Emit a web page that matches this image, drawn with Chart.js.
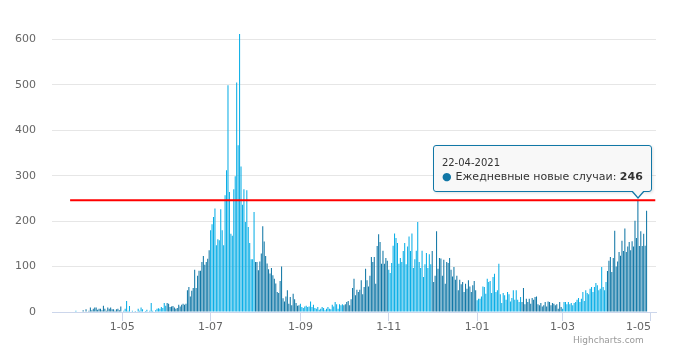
<!DOCTYPE html>
<html>
<head>
<meta charset="utf-8">
<script src="https://cdn.jsdelivr.net/npm/chart.js@4/dist/chart.umd.min.js"></script>
<style>
  html, body { margin: 0; padding: 0; background: #fff; }
  #wrap { position: relative; width: 680px; height: 361px; overflow: hidden; }
  #tip {
    position: absolute; box-sizing: border-box; white-space: nowrap;
    background: rgba(247,247,247,0.9); border: 1px solid #1278a8; border-radius: 3px;
    padding: 8px 8px 8px 8px; font-family: "DejaVu Sans", sans-serif; color: #333;
    box-shadow: 1px 1px 3px rgba(0,0,0,0.12); pointer-events: none; display: none;
  }
  #tip .tt { font-size: 10px; line-height: 17px; }
  #tip .tb { font-size: 11px; line-height: 12px; }
  #tip .dot { font-size: 11px; margin-right: 4px; }
  #tip .ar1, #tip .ar2 { position: absolute; width: 0; height: 0; }
  #credits { position: absolute; left: 573px; top: 335px; font: 9px "DejaVu Sans", sans-serif; color: #999; }
</style>
</head>
<body>
<div id="wrap">
  <canvas id="c" width="680" height="361"></canvas>
  <div id="tip"></div>
  <div id="credits">Highcharts.com</div>
</div>
<script>
// ---------------- data ----------------
const seriesName = 'Ежедневные новые случаи';
const firstDate = '2020-03-14';
const mar2020 = [0,0,0,0,0,0,0,0,0,0,0,0,0,0,0,0,3,0];
const apr2020 = [0,0,0,4,0,6,0,3,10,4,7,10,10,5,7,7,4,14,7,3,10,7,10,6,6,3,6,7,4,12];
const may2020 = [0,3,7,24,3,13,0,3,0,2,0,7,3,10,6,0,2,5,0,3,20,3,0,4,7,8,7,11,9,20,14];
const jun2020 = [20,18,11,12,13,10,7,9,16,12,16,18,16,18,48,55,34,47,53,93,53,80,91,91,110,123,104,110,117,136];
const jul2020 = [180,193,209,228,147,160,158,226,180,147,257,312,499,264,172,168,270,299,505,367,612,320,236,270,198,268,187,152,116,116,220];
const aug2020 = [110,110,92,111,129,189,155,123,107,94,85,97,81,73,63,44,42,68,100,30,23,34,48,18,33,15,40,28,20,14,15];
const sep2020 = [18,11,9,12,14,11,12,23,11,16,9,7,11,5,7,11,9,4,7,11,7,6,16,12,22,17,7,17,15,17];
const oct2020 = [15,17,22,24,15,28,53,73,37,49,44,49,70,39,55,95,70,56,80,121,110,121,62,145,171,154,106,135,106,119,113];
const nov2020 = [93,86,108,146,173,163,152,106,119,110,134,152,105,144,166,134,173,97,116,135,198,110,97,135,77,105,130,97,127,105];
const dec2020 = [134,66,80,178,95,119,118,80,115,62,110,108,119,93,78,99,71,80,48,71,61,66,44,62,51,70,56,44,59,68,48];
const jan2021 = [26,29,29,34,56,55,40,73,66,68,42,77,84,44,48,106,39,20,42,37,27,44,39,23,31,48,27,48,27,22,33];
const feb2021 = [22,53,17,29,22,29,18,31,27,33,34,17,15,20,12,15,22,12,23,22,15,20,18,15,17,7,22,11];
const mar2021 = [7,22,22,17,22,17,20,15,20,22,27,31,22,29,44,24,48,42,39,51,55,44,55,64,59,48,51,99,55,48,66];
const apr2021 = [90,113,121,88,119,179,100,111,132,124,157,134,184,132,144,154,136,156,144,201,163,246,145,178,145,172,146,223];

const thresholdValue = 246;
const thresholdFrom = '2020-03-26';
const thresholdTo = '2021-05-04';

const axisFrom = '2020-03-14';
const axisTo = '2021-05-04';
const tickDates = ['2020-05-01','2020-07-01','2020-09-01','2020-11-01','2021-01-01','2021-03-01','2021-05-01'];
const tickLabels = ['1-05','1-07','1-09','1-11','1-01','1-03','1-05'];
const yTicks = [0,100,200,300,400,500,600];
const yMax = 637;
const tooltipDate = '2021-04-22';

const colorOddMonth = '#0aaee6';
const colorEvenMonth = '#1177a6';

// ---------------- helpers ----------------
const DAY = 86400000;
const ref = Date.UTC(2020, 4, 1);
function dayNum(s) { const p = s.split('-').map(Number); return Math.round((Date.UTC(p[0], p[1]-1, p[2]) - ref) / DAY); }
function dateOf(n) { return new Date(ref + n * DAY); }
function fmt(n) { const d = dateOf(n); const p = v => String(v).padStart(2, '0'); return p(d.getUTCDate()) + '-' + p(d.getUTCMonth()+1) + '-' + d.getUTCFullYear(); }

const allValues = [].concat(mar2020, apr2020, may2020, jun2020, jul2020, aug2020, sep2020, oct2020, nov2020, dec2020, jan2021, feb2021, mar2021, apr2021);
const start = dayNum(firstDate);
const barData = allValues.map((v, i) => ({ x: start + i, y: v }));
const barColors = barData.map(p => (dateOf(p.x).getUTCMonth() % 2 === 0) ? colorOddMonth : colorEvenMonth);
const tickDays = tickDates.map(dayNum);
const labelByDay = {}; tickDays.forEach((d, i) => labelByDay[d] = tickLabels[i]);

// ---------------- tooltip ----------------
const tip = document.getElementById('tip');
function externalTip(ctx) {
  const t = ctx.tooltip;
  if (!t || t.opacity === 0 || !t.dataPoints || !t.dataPoints.length) { tip.style.display = 'none'; return; }
  const dp = t.dataPoints[0];
  const col = barColors[dp.dataIndex];
  tip.style.borderColor = col;
  tip.innerHTML = '<div class="tt">' + fmt(dp.raw.x) + '</div>' +
    '<div class="tb"><span class="dot" style="color:' + col + '">\u25CF</span>' + dp.dataset.label + ': <b>' + dp.raw.y + '</b></div>' +
    '<div class="ar1"></div><div class="ar2"></div>';
  tip.style.display = 'block';
  const w = tip.offsetWidth, h = tip.offsetHeight;
  const left = t.caretX + 14 - w;
  const top = t.caretY - 8 - h;
  tip.style.left = left + 'px';
  tip.style.top = top + 'px';
  const ax = t.caretX - left - 1;
  const a1 = tip.querySelector('.ar1'), a2 = tip.querySelector('.ar2');
  a1.style.cssText = 'left:' + (ax - 7) + 'px;top:' + (h - 2) + 'px;border-left:7px solid transparent;border-right:7px solid transparent;border-top:8px solid ' + col + ';';
  a2.style.cssText = 'left:' + (ax - 6) + 'px;top:' + (h - 3) + 'px;border-left:6px solid transparent;border-right:6px solid transparent;border-top:7px solid rgb(247,247,247);';
}

// ---------------- chart ----------------
Chart.defaults.font.family = '"DejaVu Sans", sans-serif';
const chart = new Chart(document.getElementById('c'), {
  type: 'bar',
  data: {
    datasets: [
      {
        type: 'line', label: 'threshold', order: 0,
        data: [{ x: dayNum(thresholdFrom), y: thresholdValue }, { x: dayNum(thresholdTo), y: thresholdValue }],
        borderColor: '#ff0000', borderWidth: 2, pointRadius: 0, fill: false
      },
      {
        type: 'bar', label: seriesName, order: 1,
        data: barData, backgroundColor: barColors, borderWidth: 0,
        categoryPercentage: 1, barPercentage: 0.72
      }
    ]
  },
  options: {
    responsive: false, animation: false, devicePixelRatio: 1, events: [],
    layout: { padding: { top: 12, right: 24, left: 0, bottom: 0 } },
    plugins: {
      legend: { display: false },
      tooltip: { enabled: false, external: externalTip, mode: 'nearest', intersect: false }
    },
    scales: {
      x: {
        type: 'linear', offset: false, bounds: 'data',
        min: dayNum(axisFrom) - 0.5, max: dayNum(axisTo) + 0.5,
        afterBuildTicks: s => { s.ticks = [{ value: dayNum(axisFrom) - 0.5 }].concat(tickDays.map(v => ({ value: v }))); },
        afterFit: s => { s.height = 49; },
        ticks: {
          autoSkip: false, maxRotation: 0, minRotation: 0, padding: 0, align: 'inner',
          color: '#666', font: { size: 11 },
          callback: v => labelByDay[v] !== undefined ? labelByDay[v] : ''
        },
        grid: {
          offset: false, drawOnChartArea: false, drawTicks: true, tickLength: 9,
          tickColor: c => c.index === 0 ? 'rgba(0,0,0,0)' : '#ccd6eb', color: '#ccd6eb'
        },
        border: { display: true, color: '#ccd6eb', width: 1 }
      },
      y: {
        type: 'linear', bounds: 'data', min: 0, max: yMax, grace: 0,
        afterBuildTicks: s => { s.ticks = yTicks.map(v => ({ value: v })); },
        afterFit: s => { s.width = 52; },
        ticks: { padding: 16, color: '#666', font: { size: 11 } },
        grid: { color: '#e6e6e6', drawTicks: false, lineWidth: 1 },
        border: { display: false }
      }
    }
  }
});

const tipIndex = barData.findIndex(p => p.x === dayNum(tooltipDate));
chart.tooltip.setActiveElements([{ datasetIndex: 1, index: tipIndex }], { x: 0, y: 0 });
chart.update();
</script>
</body>
</html>
